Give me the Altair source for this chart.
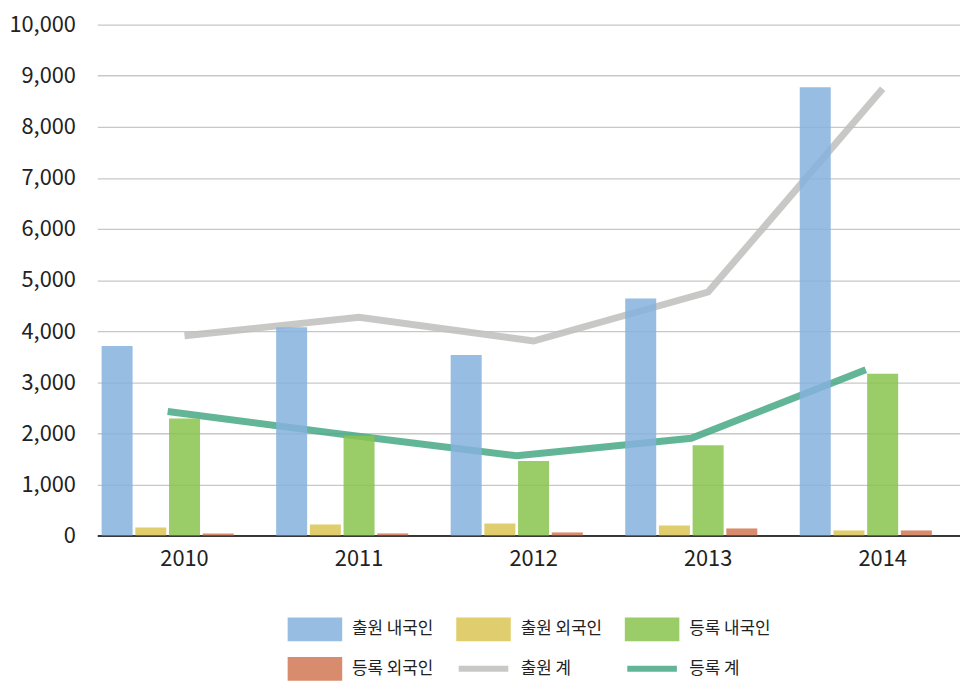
import altair as alt
import pandas as pd

years = ["2010", "2011", "2012", "2013", "2014"]
bar_series = ["출원 내국인", "출원 외국인", "등록 내국인", "등록 외국인"]
line_series = ["출원 계", "등록 계"]
all_series = bar_series + line_series

app_domestic = [3709, 4078, 3534, 4641, 8777]
app_foreign = [155, 214, 233, 194, 97]
reg_domestic = [2291, 1948, 1456, 1767, 3165]
reg_foreign = [39, 39, 58, 136, 97]
app_total = [3909, 4272, 3806, 4765, 8744]
reg_total = [2427, 1980, 1560, 1902, 3243]

colors = ["#86B1DD", "#DAC454", "#88C44D", "#D17854", "#BEBEBC", "#47A885"]
rect_path = "M-1,-0.436H1V0.436H-1Z"
line_path = "M-0.91,-0.11H0.91V0.11H-0.91Z"
shapes = [rect_path] * 4 + [line_path] * 2

FONT = "Noto Sans CJK KR"

series_values = [app_domestic, app_foreign, reg_domestic, reg_foreign, app_total, reg_total]
rows = []
for name, vals in zip(all_series, series_values):
    for yr, v in zip(years, vals):
        rows.append({"year": yr, "series": name, "value": v})
df = pd.DataFrame(rows)
df_bars = df[df["series"].isin(bar_series)]
df_app = df[df["series"] == "출원 계"]
df_reg = df[df["series"] == "등록 계"]

x_scale = alt.Scale(domain=years, range=[1, 881], paddingInner=0.05, paddingOuter=0.025)
x_axis = alt.Axis(title=None, labelFontSize=22, labelPadding=13, ticks=False,
                  domainColor="#000000", domainWidth=1.5, grid=False,
                  labelColor="#222222", labelAngle=0, labelFont=FONT)
y_scale = alt.Scale(domain=[0, 10000], nice=False)
y_axis = alt.Axis(title=None, values=list(range(0, 10001, 1000)), format=",d",
                  labelFontSize=22, labelPadding=21, ticks=False, domain=False,
                  gridColor="#c8c8c8", gridWidth=1.3, labelColor="#222222", labelFont=FONT)
color_scale = alt.Scale(domain=all_series, range=colors)

X = alt.X("year:N", scale=x_scale, axis=x_axis)
Y = alt.Y("value:Q", scale=y_scale, axis=y_axis)

legend_def = dict(orient="none", legendX=193, legendY=582, columns=3, direction="horizontal",
                  symbolSize=3025, labelFontSize=17, labelFont=FONT, columnPadding=22,
                  rowPadding=-15, labelOffset=10, title=None, symbolStrokeWidth=0,
                  symbolOpacity=0.85, labelColor="#222222")
legend_layer = alt.Chart(df).transform_filter("datum.value < 0").mark_point(filled=True).encode(
    color=alt.Color("series:N", scale=color_scale, legend=alt.Legend(**legend_def)),
    shape=alt.Shape("series:N", scale=alt.Scale(domain=all_series, range=shapes),
                    legend=alt.Legend(**legend_def)),
)

line_app = alt.Chart(df_app).mark_line(strokeWidth=7, opacity=0.85).encode(
    x=X, y=Y, color=alt.Color("series:N", scale=color_scale, legend=None)
)
line_reg = alt.Chart(df_reg).mark_line(strokeWidth=7, opacity=0.85, xOffset=-17).encode(
    x=X, y=Y, color=alt.Color("series:N", scale=color_scale, legend=None)
)
bars = alt.Chart(df_bars).mark_bar(opacity=0.85).encode(
    x=X,
    xOffset=alt.XOffset("series:N", scale=alt.Scale(domain=bar_series + ["_"], paddingInner=0.08, paddingOuter=0)),
    y=Y,
    color=alt.Color("series:N", scale=color_scale, legend=None),
)

chart = alt.layer(legend_layer, line_app, line_reg, bars).properties(
    width=869, height=515,
    autosize=alt.AutoSizeParams(type="none"),
    padding={"left": 89, "top": 14, "right": 2, "bottom": 145},
).configure_view(stroke=None)

chart.save("out.html", embed_options={"renderer": "svg", "actions": False})
